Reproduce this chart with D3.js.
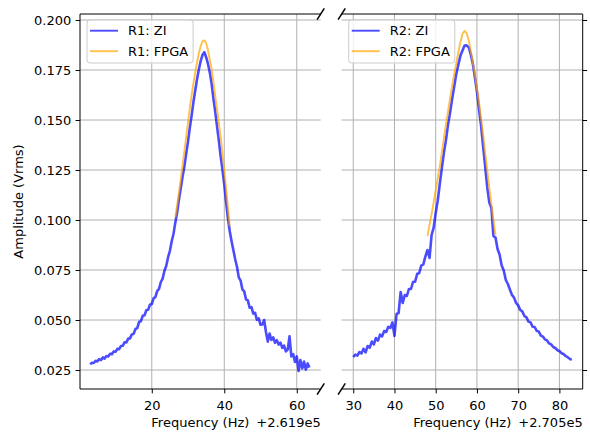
<!DOCTYPE html>
<html>
<head>
<meta charset="utf-8">
<script src="https://cdn.jsdelivr.net/npm/d3@7"></script>
<style>
  body { margin: 0; background: #fff; }
  text { font-family: "DejaVu Sans", sans-serif; }
</style>
</head>
<body>
<div id="chart"></div>
<script>
// R1 sweep, Hz above 2.619e5, sampled every 0.5 Hz
const r1Step = 0.5;
const r1ZIStart = 3.0;
const r1ZI = [
  0.0279, 0.0286, 0.0285, 0.0296, 0.0293, 0.0304, 0.0300, 0.0313, 0.0307, 0.0320,
  0.0318, 0.0331, 0.0329, 0.0343, 0.0341, 0.0356, 0.0354, 0.0370, 0.0371, 0.0389,
  0.0388, 0.0407, 0.0408, 0.0428, 0.0431, 0.0455, 0.0460, 0.0490, 0.0494, 0.0521,
  0.0524, 0.0549, 0.0551, 0.0576, 0.0580, 0.0608, 0.0615, 0.0645, 0.0656, 0.0690,
  0.0707, 0.0746, 0.0771, 0.0814, 0.0846, 0.0894, 0.0931, 0.0988, 0.1037, 0.1103,
  0.1158, 0.1217, 0.1268, 0.1332, 0.1393, 0.1462, 0.1523, 0.1591, 0.1649, 0.1706,
  0.1754, 0.1796, 0.1826, 0.1839, 0.1814, 0.1781, 0.1738, 0.1682, 0.1608, 0.1542,
  0.1468, 0.1397, 0.1318, 0.1252, 0.1177, 0.1090, 0.1010, 0.0945, 0.0895, 0.0850,
  0.0805, 0.0766, 0.0713, 0.0697, 0.0653, 0.0643, 0.0603, 0.0598, 0.0561, 0.0564,
  0.0532, 0.0536, 0.0501, 0.0508, 0.0476, 0.0478, 0.0500, 0.0440, 0.0392, 0.0432,
  0.0400, 0.0413, 0.0386, 0.0399, 0.0377, 0.0387, 0.0361, 0.0372, 0.0343, 0.0352,
  0.0418, 0.0318, 0.0330, 0.0290, 0.0318, 0.0245, 0.0300, 0.0258, 0.0292, 0.0252,
  0.0283, 0.0262
];
const r1FPGAStart = 26.5;
const r1FPGA = [
  0.1015, 0.1075, 0.1138, 0.1205, 0.1275, 0.1345, 0.1415, 0.1490, 0.1560, 0.1625,
  0.1685, 0.1740, 0.1790, 0.1835, 0.1870, 0.1893, 0.1898, 0.1885, 0.1850, 0.1800,
  0.1755, 0.1690, 0.1620, 0.1555, 0.1485, 0.1415, 0.1335, 0.1250, 0.1160, 0.1065,
  0.0970
];

// R2 sweep, Hz above 2.705e5, sampled every 0.5 Hz
const r2Step = 0.5;
const r2ZIStart = 30.0;
const r2ZI = [
  0.0315, 0.0327, 0.0322, 0.0340, 0.0333, 0.0356, 0.0338, 0.0370, 0.0362, 0.0392,
  0.0378, 0.0410, 0.0397, 0.0427, 0.0418, 0.0445, 0.0440, 0.0466, 0.0460, 0.0488,
  0.0420, 0.0530, 0.0535, 0.0640, 0.0585, 0.0625, 0.0620, 0.0655, 0.0655, 0.0690,
  0.0692, 0.0730, 0.0735, 0.0772, 0.0778, 0.0818, 0.0850, 0.0810, 0.0925, 0.0962,
  0.1035, 0.1098, 0.1182, 0.1262, 0.1338, 0.1402, 0.1478, 0.1538, 0.1607, 0.1668,
  0.1732, 0.1778, 0.1822, 0.1848, 0.1872, 0.1873, 0.1864, 0.1828, 0.1782, 0.1713,
  0.1642, 0.1553, 0.1472, 0.1368, 0.1267, 0.1163, 0.1087, 0.1060, 0.0920, 0.0912,
  0.0855, 0.0826, 0.0772, 0.0748, 0.0700, 0.0680, 0.0652, 0.0625, 0.0612, 0.0585,
  0.0573, 0.0550, 0.0543, 0.0520, 0.0513, 0.0492, 0.0488, 0.0466, 0.0465, 0.0446,
  0.0442, 0.0422, 0.0417, 0.0403, 0.0398, 0.0383, 0.0378, 0.0365, 0.0360, 0.0349,
  0.0345, 0.0334, 0.0330, 0.0320, 0.0314, 0.0306, 0.0301
];
const r2FPGAStart = 48.0;
const r2FPGA = [
  0.0920, 0.0975, 0.1030, 0.1088, 0.1148, 0.1208, 0.1270, 0.1340, 0.1410, 0.1478,
  0.1545, 0.1610, 0.1672, 0.1730, 0.1785, 0.1840, 0.1890, 0.1930, 0.1946, 0.1935,
  0.1898, 0.1845, 0.1788, 0.1728, 0.1660, 0.1590, 0.1510, 0.1425, 0.1335, 0.1250,
  0.1160, 0.1080, 0.1000, 0.0925
];

const yTicks = [0.025, 0.05, 0.075, 0.1, 0.125, 0.15, 0.175, 0.2];
const r1Ticks = [20, 40, 60];
const r2Ticks = [30, 40, 50, 60, 70, 80];

(function () {
  const W = 590, H = 436;
  const plotTop = 14, plotBottom = 389;
  const fontSize = 13;
  const tick = 4.4;
  const zColor = "blue", fColor = "orange";

  const toPoints = (start, step, vals) => vals.map((v, i) => ({ f: start + i * step, v: v }));

  const panels = [
    {
      x0: 80, x1: 320.7, domain: [0.2, 66.6], ticks: r1Ticks, side: "left",
      zi: toPoints(r1ZIStart, r1Step, r1ZI), fpga: toPoints(r1FPGAStart, r1Step, r1FPGA),
      names: ["R1: ZI", "R1: FPGA"], offset: "+2.619e5"
    },
    {
      x0: 341.7, x1: 582.7, domain: [27.2, 85.65], ticks: r2Ticks, side: "right",
      zi: toPoints(r2ZIStart, r2Step, r2ZI), fpga: toPoints(r2FPGAStart, r2Step, r2FPGA),
      names: ["R2: ZI", "R2: FPGA"], offset: "+2.705e5"
    }
  ];

  const svg = d3.select("#chart").append("svg")
    .attr("width", W).attr("height", H);

  const y = d3.scaleLinear().domain([0.0155, 0.203]).range([plotBottom, plotTop]);

  panels.forEach(p => {
    const x = d3.scaleLinear().domain(p.domain).range([p.x0, p.x1]);
    const g = svg.append("g");

    // grid
    g.selectAll(".vgrid").data(p.ticks).join("line")
      .attr("x1", d => x(d)).attr("x2", d => x(d))
      .attr("y1", plotTop).attr("y2", plotBottom)
      .attr("stroke", "#b0b0b0").attr("stroke-width", 1);
    g.selectAll(".hgrid").data(yTicks).join("line")
      .attr("x1", p.x0).attr("x2", p.x1)
      .attr("y1", d => y(d)).attr("y2", d => y(d))
      .attr("stroke", "#b0b0b0").attr("stroke-width", 1);

    const line = d3.line().x(d => x(d.f)).y(d => y(d.v));
    g.append("path").datum(p.zi)
      .attr("fill", "none").attr("stroke", zColor).attr("stroke-opacity", 0.7)
      .attr("stroke-width", 2.6).attr("stroke-linejoin", "round")
      .attr("d", line);
    g.append("path").datum(p.fpga)
      .attr("fill", "none").attr("stroke", fColor).attr("stroke-opacity", 0.7)
      .attr("stroke-width", 1.9).attr("stroke-linejoin", "round")
      .attr("d", line);

    // x axis
    const xa = g.append("g")
      .attr("transform", `translate(0,${plotBottom})`)
      .call(d3.axisBottom(x).tickValues(p.ticks).tickFormat(d3.format("d"))
        .tickSize(tick).tickPadding(7).tickSizeOuter(0));
    xa.select(".domain").remove();

    // y axis
    let ya;
    if (p.side === "left") {
      ya = g.append("g").attr("transform", `translate(${p.x0},0)`)
        .call(d3.axisLeft(y).tickValues(yTicks).tickFormat(d3.format(".3f"))
          .tickSize(tick).tickPadding(4.3).tickSizeOuter(0));
    } else {
      ya = g.append("g").attr("transform", `translate(${p.x1},0)`)
        .call(d3.axisRight(y).tickValues(yTicks).tickFormat("")
          .tickSize(tick).tickSizeOuter(0));
    }
    ya.select(".domain").remove();
    g.selectAll(".tick text").attr("font-size", fontSize).attr("fill", "#000")
      .attr("font-family", "DejaVu Sans");
    g.selectAll(".tick line").attr("stroke", "#000").attr("stroke-width", 1);

    // spines
    const sx = p.side === "left" ? p.x0 : p.x1;
    g.append("line").attr("x1", sx).attr("x2", sx).attr("y1", plotTop).attr("y2", plotBottom)
      .attr("stroke", "#000").attr("stroke-width", 1);
    [plotTop, plotBottom].forEach(yy => {
      g.append("line").attr("x1", p.x0).attr("x2", p.x1).attr("y1", yy).attr("y2", yy)
        .attr("stroke", "#000").attr("stroke-width", 1);
    });

    // break marks
    const bx = p.side === "left" ? p.x1 : p.x0;
    [plotTop, plotBottom].forEach(yy => {
      g.append("line")
        .attr("x1", bx - 3.6).attr("y1", yy + 5.6)
        .attr("x2", bx + 3.6).attr("y2", yy - 5.6)
        .attr("stroke", "#000").attr("stroke-width", 1.5);
    });

    // legend
    const lg = g.append("g").attr("transform", `translate(${p.x0 + 7},20)`);
    const box = lg.append("rect")
      .attr("x", 0).attr("y", 0).attr("height", 43).attr("rx", 3)
      .attr("fill", "#fff").attr("fill-opacity", 0.8)
      .attr("stroke", "#ccc").attr("stroke-width", 1);
    let maxW = 0;
    [[p.names[0], zColor], [p.names[1], fColor]].forEach((e, i) => {
      const ly = 10.7 + i * 20.5;
      lg.append("line").attr("x1", 3).attr("x2", 31).attr("y1", ly).attr("y2", ly)
        .attr("stroke", e[1]).attr("stroke-opacity", 0.7).attr("stroke-width", 1.9);
      const t = lg.append("text").attr("x", 41).attr("y", ly).attr("dy", "0.35em")
        .attr("font-size", fontSize).text(e[0]);
      maxW = Math.max(maxW, t.node().getComputedTextLength());
    });
    box.attr("width", 41 + maxW + 5);

    // x label and offset
    g.append("text").attr("x", (p.x0 + p.x1) / 2).attr("y", 427)
      .attr("text-anchor", "middle").attr("font-size", fontSize)
      .text("Frequency (Hz)");
    g.append("text").attr("x", p.x1).attr("y", 427)
      .attr("text-anchor", "end").attr("font-size", fontSize)
      .text(p.offset);
  });

  // y label
  svg.append("text")
    .attr("transform", `translate(23,${(plotTop + plotBottom) / 2}) rotate(-90)`)
    .attr("text-anchor", "middle")
    .attr("font-size", fontSize)
    .text("Amplitude (Vrms)");
})();
</script>
</body>
</html>
